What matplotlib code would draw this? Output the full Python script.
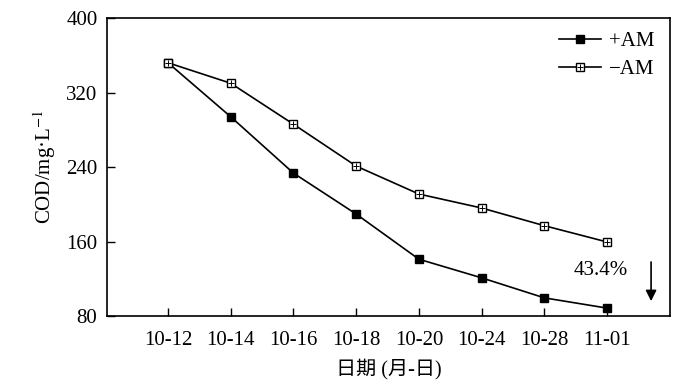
import matplotlib
matplotlib.use("Agg")
import matplotlib.pyplot as plt

plt.rcParams['font.family'] = ['Liberation Serif', 'Noto Sans CJK SC']
plt.rcParams['mathtext.fontset'] = 'stix'

dates = ["10-12", "10-14", "10-16", "10-18", "10-20", "10-24", "10-28", "11-01"]
plus_am = [352, 294, 233.5, 189.5, 141, 121, 99.5, 88.5]
minus_am = [352, 330, 286, 241, 211, 196, 177, 159.5]
yticks = [80, 160, 240, 320, 400]

fig = plt.figure(figsize=(7, 3.84), dpi=100)
ax = fig.add_axes([0.153, 0.177, 0.804, 0.776])
x = list(range(len(dates)))

l1, = ax.plot(x, plus_am, color='black', lw=1.2, marker='s', ms=6,
              mfc='black', mec='black')
l2, = ax.plot(x, minus_am, color='black', lw=1.2, marker='s', ms=6,
              mfc='white', mec='black', mew=1.0)
l2p, = ax.plot(x, minus_am, ls='none', marker='+', ms=5, color='black', mew=0.7)

ax.set_xlim(-0.97, 8.0)
ax.set_ylim(80, 400)
ax.set_xticks(x)
ax.set_xticklabels(dates)
ax.set_yticks(yticks)
ax.tick_params(direction='in', length=6, width=1, labelsize=15, top=False, right=False)
ax.tick_params(axis='x', pad=11)
ax.tick_params(axis='y', pad=7)
for s in ax.spines.values():
    s.set_linewidth(1.2)

ax.set_xlabel("日期 (月-日)", fontsize=14.5, labelpad=6)
ax.set_ylabel("COD/mg·L$^{-1}$", fontsize=15, labelpad=6)

ax.legend([l1, (l2, l2p)], ["+AM", "−AM"], loc='upper right', frameon=False,
          fontsize=15, handlelength=2.0, labelspacing=0.4, borderaxespad=0.25,
          handletextpad=0.4, bbox_to_anchor=(0.997, 1.0))

ax.text(6.9, 129, "43.4%", fontsize=15, ha='center', va='center')
ax.annotate("", xy=(7.7, 93), xytext=(7.7, 141),
            arrowprops=dict(arrowstyle='-|>', color='black', lw=1.2,
                            mutation_scale=16))

fig.savefig("out.png", dpi=100)
